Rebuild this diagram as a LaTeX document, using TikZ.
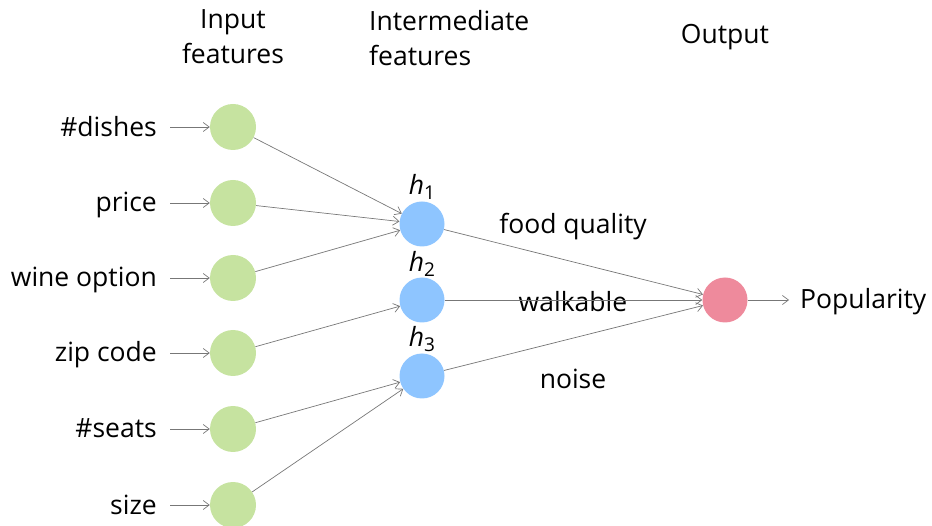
\documentclass[tikz,border=0pt]{standalone}
\usepackage{fontspec}
\setmainfont{Open Sans}
\usetikzlibrary{arrows.meta}
\definecolor{ingreen}{HTML}{C6E3A0}
\definecolor{hidblue}{HTML}{8EC5FF}
\definecolor{outpink}{HTML}{EE8A9C}
\definecolor{edgegray}{HTML}{777777}
\newcommand{\hsub}[1]{\textit{h}\raisebox{-0.22em}{\fontsize{19}{19}\selectfont #1}}
\begin{document}
\begin{tikzpicture}[x=1pt,y=-1pt,
  every node/.style={font=\fontsize{26.5}{35}\selectfont, inner sep=0pt},
  innode/.style={circle, fill=ingreen, minimum size=46pt},
  hidnode/.style={circle, fill=hidblue, minimum size=45pt},
  outnode/.style={circle, fill=outpink, minimum size=45pt},
  lbl/.style={anchor=base east},
  conn/.style={draw=edgegray, line width=0.7pt, -{Straight Barb[length=6pt,width=9pt]}},
]
\useasboundingbox (0,0) rectangle (932,526);
% headers
\node[align=center] (hin) at (233,37) {Input\\features};
\node[align=left, anchor=west] (hmid) at (369,38) {Intermediate\\features};
\node (hout) at (725,37) {Output};
% input nodes
\node[innode] (i1) at (233,127) {};
\node[innode] (i2) at (233,203) {};
\node[innode] (i3) at (233,278) {};
\node[innode] (i4) at (233,353) {};
\node[innode] (i5) at (233,429) {};
\node[innode] (i6) at (233,505) {};
% input labels
\node[lbl] (l1) at (157,137) {\#dishes};
\node[lbl] (l2) at (157,212) {price};
\node[lbl] (l3) at (157,287) {wine option};
\node[lbl] (l4) at (157,362) {zip code};
\node[lbl] (l5) at (157,438) {\#seats};
\node[lbl] (l6) at (157,514) {size};
% label arrow starts
\coordinate (s1) at (170,127);
\coordinate (s2) at (170,203);
\coordinate (s3) at (170,278);
\coordinate (s4) at (170,353);
\coordinate (s5) at (170,429);
\coordinate (s6) at (170,505);
% hidden nodes
\node[hidnode] (h1) at (422,224) {};
\node[hidnode] (h2) at (422,300) {};
\node[hidnode] (h3) at (422,376) {};
\node (t1) at (422,187) {\hsub{1}};
\node (t2) at (422,264) {\hsub{2}};
\node (t3) at (422,339) {\hsub{3}};
% output
\node[outnode] (o) at (725,300) {};
\node[anchor=west] (pop) at (800,302) {Popularity};
\coordinate (oe) at (789,300);
% edge labels
\node (e1) at (573,227) {food quality};
\node (e2) at (573,302) {walkable};
\node (e3) at (573,379) {noise};
% connectors
\foreach \k in {1,...,6} {\draw[conn] (s\k) -- (i\k.west);}
\draw[conn] (i1) -- (h1);
\draw[conn] (i2) -- (h1);
\draw[conn] (i3) -- (h1);
\draw[conn] (i4) -- (h2);
\draw[conn] (i5) -- (h3);
\draw[conn] (i6) -- (h3);
\draw[conn] (h1) -- (o);
\draw[conn] (h2) -- (o);
\draw[conn] (h3) -- (o);
\draw[conn] (o) -- (oe);
\end{tikzpicture}
\end{document}
